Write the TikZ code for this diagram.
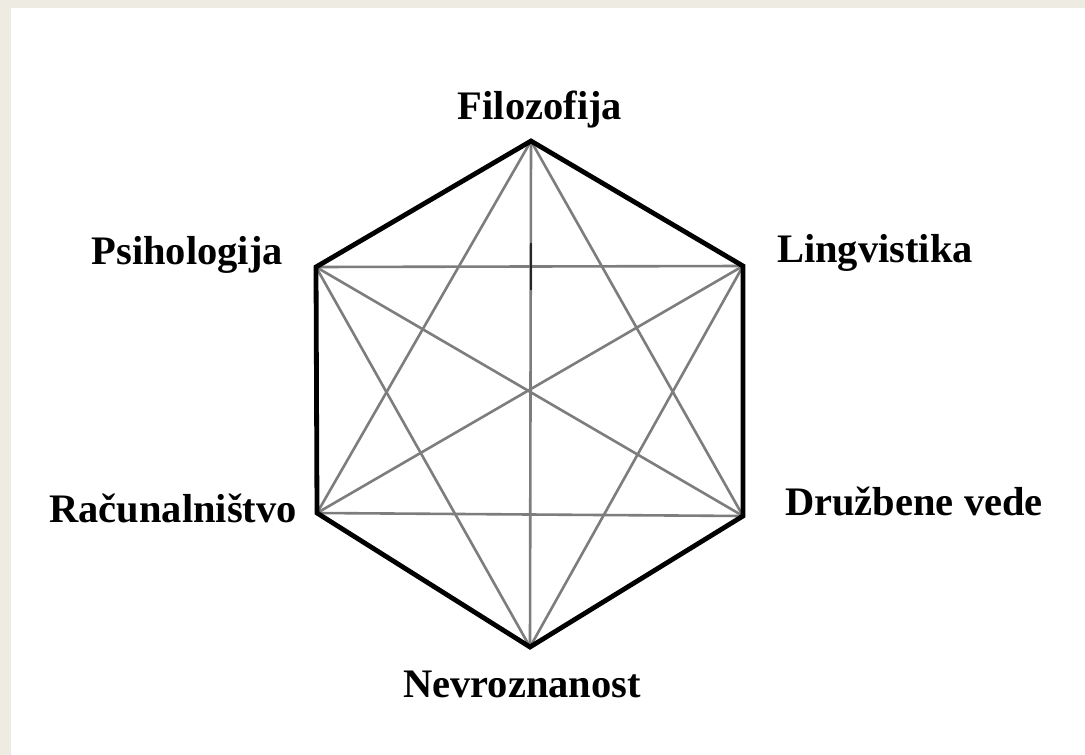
\documentclass[tikz,border=0pt]{standalone}
\usepackage{fontspec}
\setmainfont{Liberation Serif}
\definecolor{beige}{RGB}{238,235,227}
\definecolor{linegray}{RGB}{125,125,125}
\begin{document}
\begin{tikzpicture}[x=1pt,y=-1pt,
  hexedge/.style={line width=4.8pt,black,line join=miter},
  diag/.style={line width=2.6pt,linegray},
  lab/.style={inner sep=0pt,font=\fontsize{40.5}{48}\selectfont\bfseries}]
\useasboundingbox (0,0) rectangle (1085,755);
\fill[beige] (0,0) rectangle (1085,755);
\fill[white] (11,8) rectangle (1085,755);
\coordinate (T) at (531,141);
\coordinate (UL) at (316,267);
\coordinate (UR) at (743,266);
\coordinate (LL) at (317,513);
\coordinate (LR) at (743,516);
\coordinate (B) at (530,647);
% diagonals
\draw[diag] (T) -- (LL);
\draw[diag] (T) -- (LR);
\draw[diag] (T) -- (B);
\draw[diag] (UL) -- (UR);
\draw[diag] (UL) -- (LR);
\draw[diag] (UL) -- (B);
\draw[diag] (UR) -- (LL);
\draw[diag] (UR) -- (B);
\draw[diag] (LL) -- (LR);
\coordinate (tickA) at (531,243);
\coordinate (tickB) at (531,290);
\draw[line width=2.6pt,black!85] (tickA) -- (tickB);
% hexagon
\draw[hexedge] (T) -- (UR) -- (LR) -- (B) -- (LL) -- (UL) -- cycle;
% labels
\node[lab,anchor=base] (filo) at (540,119) {Filozofija};
\node[lab,anchor=base east] (psih) at (283,264) {Psihologija};
\node[lab,anchor=base west] (ling) at (777,262) {Lingvistika};
\node[lab,anchor=base east] (racu) at (297,522) {Računalništvo};
\node[lab,anchor=base west] (druz) at (785,515) {Družbene vede};
\node[lab,anchor=base] (nevr) at (522,697) {Nevroznanost};
\end{tikzpicture}
\end{document}
